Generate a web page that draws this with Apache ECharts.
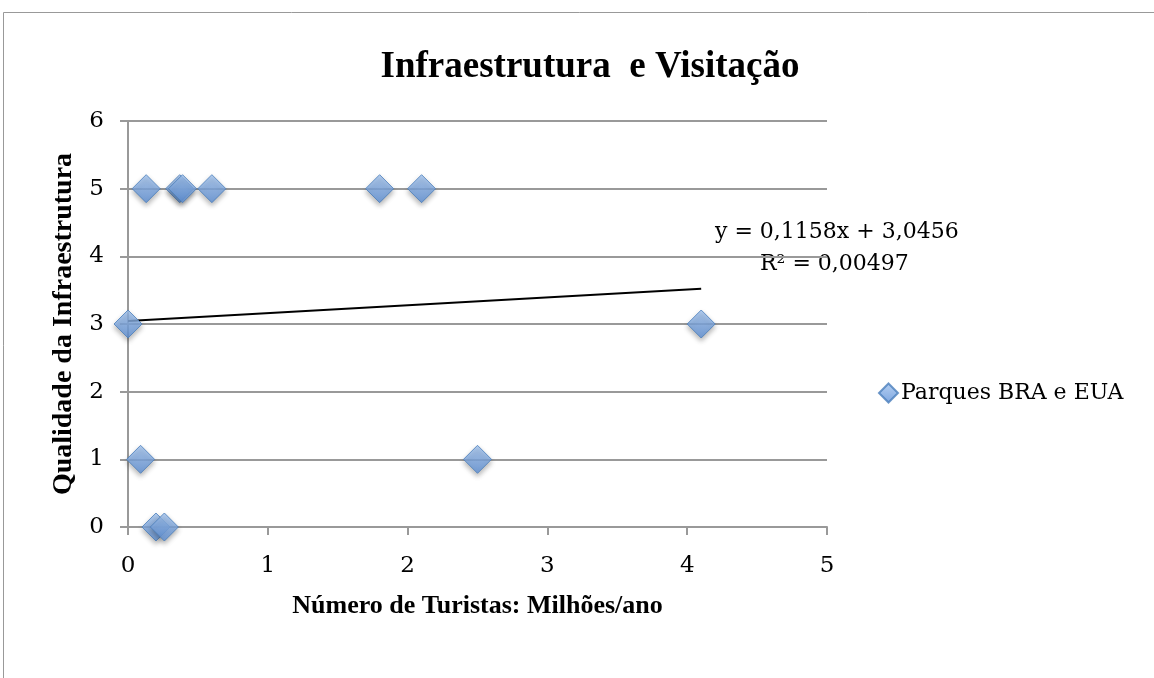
<!DOCTYPE html>
<html>
<head>
<meta charset="utf-8">
<script src="https://cdn.jsdelivr.net/npm/echarts@6/dist/echarts.min.js"></script>
<style>
  html, body { margin: 0; padding: 0; background: #fff; }
  #main { width: 1154px; height: 678px; }
</style>
</head>
<body>
<div id="main"></div>
<script>
// dados
const turistas = [0, 0.09, 0.13, 0.2, 0.26, 0.37, 0.39, 0.6, 1.8, 2.1, 2.5, 4.1] // milhões/ano
const qualidade = [3, 1, 5, 0, 0, 5, 5, 5, 5, 5, 1, 3]
const xTicks = [0, 1, 2, 3, 4, 5]
const yTicks = [0, 1, 2, 3, 4, 5, 6]
// linha de tendência (Excel)
const slope = 0.1158
const intercept = 3.0456
const trendX = [0, 4.1]

const chart = echarts.init(document.getElementById('main'))

const titleFont = '"Liberation Serif", serif'
const textFont = '"DejaVu Serif", serif'

const pontos = turistas.map((x, i) => [x, qualidade[i]])
const tendencia = trendX.map(x => [x, intercept + slope * x])

const option = {
  backgroundColor: '#fff',
  animation: false,
  title: {
    text: 'Infraestrutura  e Visitação',
    left: 585,
    top: 44,
    textAlign: 'center',
    textStyle: {
      fontFamily: titleFont,
      fontWeight: 'bold',
      fontSize: 37,
      color: '#000'
    }
  },
  legend: {
    left: 873,
    top: 377,
    itemWidth: 19,
    itemHeight: 19,
    itemGap: 4,
    data: [{ name: 'Parques BRA e EUA', icon: 'diamond' }],
    textStyle: {
      fontFamily: textFont,
      fontSize: 22,
      color: '#000',
      padding: [0, 0, 0, -2]
    }
  },
  grid: {
    left: 128,
    right: 327,
    top: 121,
    bottom: 151,
    containLabel: false
  },
  xAxis: {
    type: 'value',
    min: xTicks[0],
    max: xTicks[xTicks.length - 1],
    interval: 1,
    name: 'Número de Turistas: Milhões/ano',
    nameLocation: 'middle',
    nameGap: 66,
    nameTextStyle: {
      fontFamily: titleFont,
      fontWeight: 'bold',
      fontSize: 26,
      color: '#000'
    },
    axisLine: { show: true, lineStyle: { color: '#999', width: 2 } },
    axisTick: { show: true, length: 8, lineStyle: { color: '#999', width: 2 } },
    splitLine: { show: false },
    axisLabel: {
      fontFamily: textFont,
      fontSize: 23,
      color: '#000',
      margin: 28
    }
  },
  yAxis: {
    type: 'value',
    min: yTicks[0],
    max: yTicks[yTicks.length - 1],
    interval: 1,
    name: 'Qualidade da Infraestrutura',
    nameLocation: 'middle',
    nameGap: 50,
    nameTextStyle: {
      fontFamily: titleFont,
      fontWeight: 'bold',
      fontSize: 28,
      color: '#000'
    },
    axisLine: { show: true, lineStyle: { color: '#999', width: 2 } },
    axisTick: { show: true, length: 8, lineStyle: { color: '#999', width: 2 } },
    splitLine: { show: true, lineStyle: { color: '#999', width: 2 } },
    axisLabel: {
      fontFamily: textFont,
      fontSize: 23,
      color: '#000',
      margin: 24
    }
  },
  graphic: [
    {
      type: 'rect',
      shape: { x: 3.5, y: 12.5, width: 1300, height: 800 },
      style: { fill: 'none', stroke: '#999', lineWidth: 1 },
      silent: true
    },
    {
      type: 'text',
      left: 715,
      top: 221,
      style: {
        text: 'y = 0,1158x + 3,0456',
        fontFamily: textFont,
        fontSize: 22,
        fill: '#000'
      }
    },
    {
      type: 'text',
      left: 760,
      top: 253,
      style: {
        text: 'R² = 0,00497',
        fontFamily: textFont,
        fontSize: 22,
        fill: '#000'
      }
    }
  ],
  series: [
    {
      name: 'tendência',
      type: 'line',
      data: tendencia,
      symbol: 'none',
      lineStyle: { color: '#000', width: 2 },
      z: 1,
      silent: true
    },
    {
      name: 'Parques BRA e EUA',
      type: 'scatter',
      data: pontos,
      symbol: 'diamond',
      symbolSize: [28, 28],
      z: 3,
      itemStyle: {
        color: new echarts.graphic.LinearGradient(0, 0, 0, 1, [
          { offset: 0, color: '#a3c4ef' },
          { offset: 1, color: '#5e91d8' }
        ]),
        borderColor: '#4a7ebb',
        borderWidth: 1,
        shadowColor: 'rgba(0,0,0,0.35)',
        shadowBlur: 5,
        shadowOffsetY: 3
      }
    }
  ]
}

chart.setOption(option)
</script>
</body>
</html>
